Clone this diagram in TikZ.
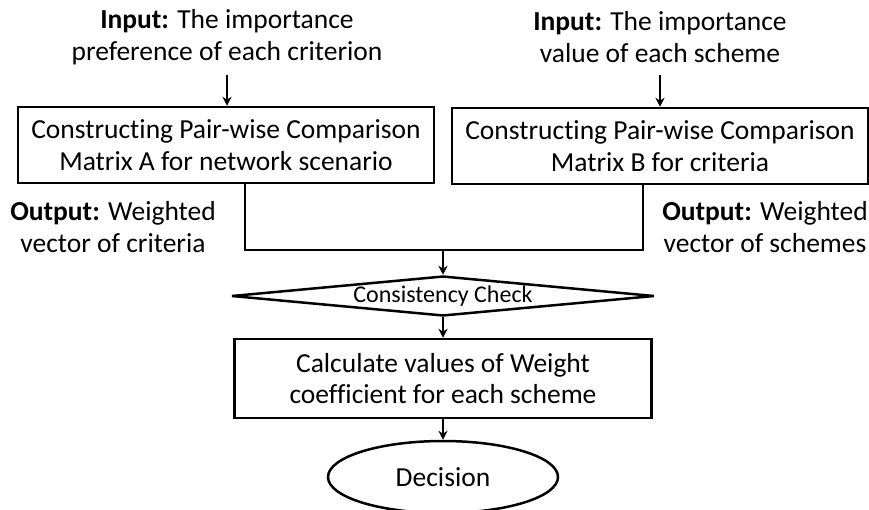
\documentclass[tikz,border=0pt]{standalone}
\usepackage{fontspec}
\setmainfont{Carlito}[Ligatures={NoCommon}]
\usetikzlibrary{arrows.meta,shapes.geometric}
\begin{document}
\begin{tikzpicture}[x=1pt,y=-1pt,
  every node/.style={font=\fontsize{27.5}{31.5}\selectfont, align=center, inner sep=0pt},
  flow/.style={line width=2.5pt},
  arr/.style={flow, -{Stealth[length=9pt,width=9pt]}},
  procbox/.style={draw, line width=2.5pt, minimum width=416pt, minimum height=76pt},
  lbl/.style={}]
\useasboundingbox (0,0) rectangle (869,509);
\node[lbl] (inA) at (227,37) {\textbf{Input:} The importance\\preference of each criterion};
\node[lbl] (inB) at (660,37) {\textbf{Input:} The importance\\value of each scheme};
\node[procbox] (boxA) at (226,145) {Constructing Pair-wise Comparison\\Matrix A for network scenario};
\node[procbox] (boxB) at (660,146) {Constructing Pair-wise Comparison\\Matrix B for criteria};
\node[lbl] (outA) at (113,227) {\textbf{Output:} Weighted\\vector of criteria};
\node[lbl] (outB) at (765,227) {\textbf{Output:} Weighted\\vector of schemes};
\node[diamond, draw, line width=2.5pt, minimum width=423pt, minimum height=40pt, shape aspect=10.5, font=\fontsize{24}{28}\selectfont] (chk) at (443,296) {Consistency Check};
\node[procbox, minimum width=417pt, minimum height=79pt] (boxC) at (443,378.5) {Calculate values of Weight\\coefficient for each scheme};
\node[ellipse, draw, line width=2.5pt, minimum width=230pt, minimum height=72pt] (dec) at (443,477) {Decision};
\coordinate (j1) at (245,250);
\coordinate (j2) at (643,250);
\coordinate (j3) at (443,250);
\coordinate (tA) at (227,75);
\coordinate (tB) at (660,75);
\draw[arr] (tA) -- (boxA.north -| tA);
\draw[arr] (tB) -- (boxB.north -| tB);
\draw[flow] (boxA.south -| j1) |- (j2) -- (boxB.south -| j2);
\draw[arr] (j3) -- (chk.north);
\draw[arr] (chk.south) -- (boxC.north);
\draw[arr] (boxC.south) -- (dec.north);
\end{tikzpicture}
\end{document}
